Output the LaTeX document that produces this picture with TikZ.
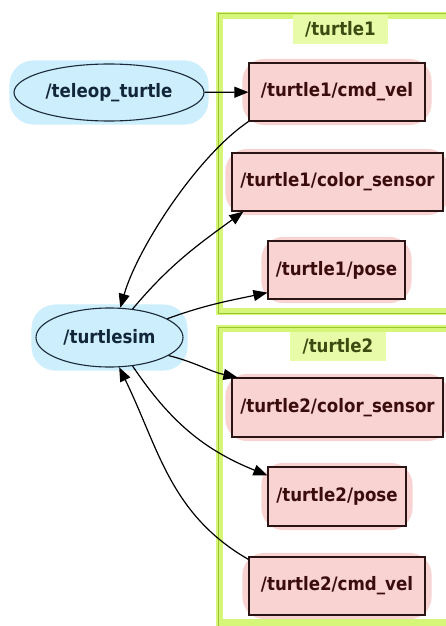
\documentclass[tikz,border=0pt]{standalone}
\usepackage{fontspec}
\setmainfont{DejaVu Sans}
\newfontfamily\graphfam[FakeStretch=0.9]{DejaVu Sans}
\usepackage{tikz}
\usetikzlibrary{arrows.meta}
\usetikzlibrary{shapes.geometric}
\usetikzlibrary{fit,backgrounds,calc}

\definecolor{nodeblue}{HTML}{CDEEFC}
\definecolor{nodeline}{HTML}{1A2A3A}
\definecolor{nodetext}{HTML}{12263A}
\definecolor{topicpink}{HTML}{F9D2D2}
\definecolor{topicline}{HTML}{2B1414}
\definecolor{topictext}{HTML}{3A0C0C}
\definecolor{clusterband}{HTML}{D6F679}
\definecolor{clusterline}{HTML}{9EC432}
\definecolor{labelfill}{HTML}{E8FBA8}
\definecolor{labeltext}{HTML}{3D4A11}

\tikzset{>={Triangle[length=14pt,width=11pt]}}
\tikzset{
  graphfont/.style={font=\graphfam\fontsize{18.5}{20}\selectfont\bfseries},
  rosnode/.style={ellipse, draw=nodeline, fill=nodeblue, line width=1.1pt, inner sep=0pt, graphfont, text=nodetext},
  topic/.style={rectangle, draw=topicline, fill=topicpink, line width=1.2pt, inner sep=0pt, graphfont, text=topictext},
  bluehalo/.style={rectangle, fill=nodeblue, rounded corners=24pt, inner xsep=4pt, inner ysep=3pt},
  pinkhalo/.style={rectangle, fill=topicpink, rounded corners=22pt, inner xsep=6pt, inner ysep=3.5pt},
  clusterlabel/.style={rectangle, fill=labelfill, inner sep=0pt, graphfont, text=labeltext},
  edge/.style={->, line width=1.2pt, black}
}

\begin{document}
\begin{tikzpicture}[x=1pt, y=1pt]
  \useasboundingbox (0,0) rectangle (445,-626);

  % --- 1. Clusters (namespaces) ---
  \draw[clusterband, line width=7pt] (219.5,-15.5) rectangle (470,-311.5);
  \draw[clusterline, line width=1pt] (218,-13.5) rectangle (470,-313.5);
  \draw[clusterband, line width=7pt] (219.5,-328.5) rectangle (470,-622.5);
  \draw[clusterline, line width=1pt] (218,-327) rectangle (470,-640);

  \node[clusterlabel, minimum width=95pt, minimum height=29pt] (lbl1) at (340.5,-29.5) {/turtle1};
  \node[clusterlabel, minimum width=96pt, minimum height=29pt] (lbl2) at (338,-346.5) {/turtle2};

  % --- 2. Nodes ---
  \node[rosnode, minimum width=190pt, minimum height=57pt] (tel) at (109,-92.5) {/teleop\_turtle};
  \node[rosnode, minimum width=147pt, minimum height=59pt] (sim) at (109.5,-337.5) {/turtlesim};

  % --- 3. Topics ---
  \node[topic, minimum width=176pt, minimum height=58pt] (cv1) at (337,-92) {/turtle1/cmd\_vel};
  \node[topic, minimum width=211pt, minimum height=58pt] (cs1) at (337.5,-182) {/turtle1/color\_sensor};
  \node[topic, minimum width=137pt, minimum height=58pt] (p1) at (336.5,-270) {/turtle1/pose};
  \node[topic, minimum width=211pt, minimum height=59pt] (cs2) at (337.5,-407.5) {/turtle2/color\_sensor};
  \node[topic, minimum width=138pt, minimum height=59pt] (p2) at (337,-496.5) {/turtle2/pose};
  \node[topic, minimum width=176pt, minimum height=58pt] (cv2) at (337,-586) {/turtle2/cmd\_vel};

  % halos behind nodes and topics
  \begin{scope}[on background layer]
    \node[bluehalo, fit=(tel)] (telh) {};
    \node[bluehalo, fit=(sim)] (simh) {};
    \foreach \t in {cv1,cs1,p1,cs2,p2,cv2}
      \node[pinkhalo, fit=(\t)] (\t h) {};
  \end{scope}

  % --- 4. Edges ---
  \draw[edge] (tel) -- (cv1);
  \draw[edge] (cv1.south west) to[out=214, in=74, looseness=0.7] (sim.70);
  \draw[edge] (sim.51) to[out=50, in=216] ($(cs1.south west)+(12,0)$);
  \draw[edge] (sim.18) to[out=20, in=192] ($(p1.south west)+(0,7)$);
  \draw[edge] (sim.-17) to[out=-14, in=168] ($(cs2.north west)+(6,0)$);
  \draw[edge] (sim.-51) to[out=-56, in=158] ($(p2.north west)+(0,-9)$);
  \draw[edge] ($(cv2.north west)+(0,-3)$) to[out=150, in=-64] (sim.-72);
\end{tikzpicture}
\end{document}
